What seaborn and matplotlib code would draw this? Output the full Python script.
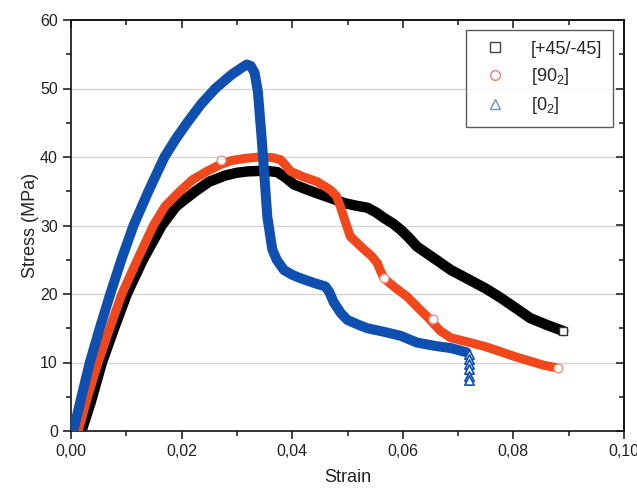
import pandas as pd
import matplotlib
matplotlib.use("Agg")
import matplotlib.pyplot as plt
import seaborn as sns
from matplotlib.lines import Line2D
from matplotlib.ticker import MultipleLocator, FuncFormatter, NullFormatter

# ---- data ----
labels = ["[+45/-45]", "[90$_2$]", "[0$_2$]"]

black_x = [0.0019, 0.0035, 0.0056, 0.0078, 0.0101, 0.0130, 0.0164, 0.0190, 0.0225, 0.0250,
           0.0279, 0.0300, 0.0320, 0.0350, 0.0373, 0.0388, 0.0403, 0.0425, 0.0445, 0.0470,
           0.0493, 0.0515, 0.0536, 0.0552, 0.0566, 0.0582, 0.0596, 0.0610, 0.0626, 0.0655,
           0.0687, 0.0722, 0.0750, 0.0776, 0.0805, 0.0830, 0.0860, 0.0890]
black_y = [0, 4, 10, 15, 20, 25, 30, 32.8, 35, 36.4,
           37.3, 37.7, 37.9, 38.0, 37.8, 37.0, 36.0, 35.3, 34.7, 34.0,
           33.3, 32.9, 32.6, 31.9, 31.1, 30.3, 29.4, 28.3, 26.9, 25.3,
           23.5, 22.0, 20.8, 19.5, 17.9, 16.5, 15.5, 14.6]

red_x = [0.0013, 0.0030, 0.0049, 0.0070, 0.0092, 0.0120, 0.0149, 0.0170, 0.0197, 0.0220,
         0.0248, 0.0270, 0.0291, 0.0315, 0.0340, 0.0365, 0.0379, 0.0388, 0.0397, 0.0420,
         0.0445, 0.0469, 0.0480, 0.0487, 0.0495, 0.0505, 0.0518, 0.0530, 0.0544, 0.0554,
         0.0560, 0.0566, 0.0585, 0.0608, 0.0625, 0.0644, 0.0668, 0.0687, 0.0722, 0.0750,
         0.0776, 0.0805, 0.0830, 0.0855, 0.0880]
red_y = [0, 5, 10, 15, 20, 25, 30, 32.8, 35, 36.7,
         38.0, 38.9, 39.5, 39.8, 40.0, 39.9, 39.6, 38.8, 37.9, 37.1,
         36.4, 35.2, 34.3, 32.8, 30.8, 28.4, 27.4, 26.5, 25.5, 24.5,
         23.3, 22.3, 21.0, 19.6, 18.2, 16.7, 14.6, 13.6, 12.9, 12.3,
         11.6, 10.8, 10.2, 9.6, 9.2]

blue_x = [0.0004, 0.0019, 0.0034, 0.0052, 0.0071, 0.0091, 0.0113, 0.0140, 0.0169, 0.0190,
          0.0210, 0.0235, 0.0261, 0.0290, 0.0310, 0.0318, 0.0325, 0.0332, 0.0338, 0.0345,
          0.0355, 0.0364, 0.0372, 0.0385, 0.0400, 0.0415, 0.0440, 0.0460, 0.0467, 0.0475,
          0.0488, 0.0500, 0.0520, 0.0536, 0.0565, 0.0596, 0.0626, 0.0660, 0.0687, 0.0715]
blue_y = [0, 5, 10, 15, 20, 25, 30, 35, 40, 42.7,
          45, 47.7, 50, 52.0, 53.1, 53.5, 53.3, 52.3, 49.5, 42.5,
          31.3, 26.5, 25.0, 23.5, 22.8, 22.3, 21.6, 21.1, 20.3, 18.8,
          17.2, 16.2, 15.5, 15.0, 14.5, 13.9, 12.9, 12.4, 12.1, 11.5]

# open markers sitting on the curves
black_mk_x = [0.0890]
black_mk_y = [14.6]
red_mk_x = [0.0272, 0.0566, 0.0655, 0.0880]
red_mk_y = [39.6, 22.3, 16.3, 9.2]
blue_mk_x = [0.0719, 0.0719, 0.0719, 0.0719, 0.0719, 0.0719]
blue_mk_y = [11.3, 10.5, 9.8, 9.0, 8.0, 7.5]

c_black = "#000000"
c_red = "#f0481c"
c_blue = "#0f4fb0"

sns.set_style("ticks")
plt.rcParams["font.family"] = ["Liberation Sans", "DejaVu Sans"]
plt.rcParams["mathtext.fontset"] = "custom"
plt.rcParams["mathtext.rm"] = "Liberation Sans"

fig = plt.figure(figsize=(6.37, 4.88), dpi=100)
ax = fig.add_axes([71 / 637, 57 / 488, 553 / 637, 411 / 488])

# gridlines (horizontal only)
for g in [10, 20, 30, 40, 50]:
    ax.axhline(g, color="#d4d4d4", lw=1.0, zorder=0)

df_k = pd.DataFrame({"x": black_x, "y": black_y})
df_r = pd.DataFrame({"x": red_x, "y": red_y})
df_b = pd.DataFrame({"x": blue_x, "y": blue_y})

sns.lineplot(data=df_k, x="x", y="y", sort=False, estimator=None, color=c_black,
             lw=7.5, solid_joinstyle="round", solid_capstyle="round", ax=ax, zorder=2)
sns.lineplot(data=df_r, x="x", y="y", sort=False, estimator=None, color=c_red,
             lw=6.5, solid_joinstyle="round", solid_capstyle="round", ax=ax, zorder=3)
sns.lineplot(data=df_b, x="x", y="y", sort=False, estimator=None, color=c_blue,
             lw=7.2, solid_joinstyle="round", solid_capstyle="round", ax=ax, zorder=4)

sns.scatterplot(x=black_mk_x, y=black_mk_y, marker="s", s=40, facecolor="white",
                edgecolor="#333333", linewidth=1.0, ax=ax, zorder=5)
sns.scatterplot(x=red_mk_x, y=red_mk_y, marker="o", s=40, facecolor="white",
                edgecolor="#f59080", linewidth=1.0, ax=ax, zorder=5)
sns.scatterplot(x=blue_mk_x, y=blue_mk_y, marker="^", s=45, facecolor="white",
                edgecolor=c_blue, linewidth=1.2, ax=ax, zorder=5)

ax.set_xlim(0, 0.10)
ax.set_ylim(0, 60)
ax.xaxis.set_major_locator(MultipleLocator(0.02))
ax.xaxis.set_minor_locator(MultipleLocator(0.01))
ax.yaxis.set_major_locator(MultipleLocator(10))
ax.yaxis.set_minor_locator(MultipleLocator(5))
ax.xaxis.set_major_formatter(FuncFormatter(lambda v, p: f"{v:.2f}".replace(".", ",")))
ax.yaxis.set_major_formatter(FuncFormatter(lambda v, p: f"{v:.0f}"))

ax.tick_params(which="major", direction="out", length=6, width=1.2, labelsize=11.5,
               colors="#222222")
ax.tick_params(which="minor", direction="out", length=3.5, width=1.2)
for s in ax.spines.values():
    s.set_linewidth(1.2)
    s.set_color("#111111")

# inward ticks on the top and right frame
top = ax.secondary_xaxis("top")
top.xaxis.set_major_locator(MultipleLocator(0.02))
top.xaxis.set_minor_locator(MultipleLocator(0.01))
top.xaxis.set_major_formatter(NullFormatter())
top.tick_params(which="major", direction="in", length=6, width=1.2)
top.tick_params(which="minor", direction="in", length=3.5, width=1.2)
top.spines["top"].set_linewidth(1.2)
right = ax.secondary_yaxis("right")
right.yaxis.set_major_locator(MultipleLocator(10))
right.yaxis.set_minor_locator(MultipleLocator(5))
right.yaxis.set_major_formatter(NullFormatter())
right.tick_params(which="major", direction="in", length=6, width=1.2)
right.tick_params(which="minor", direction="in", length=3.5, width=1.2)
right.spines["right"].set_linewidth(1.2)

ax.set_xlabel("Strain", fontsize=13, color="#222222", labelpad=7)
ax.set_ylabel("Stress (MPa)", fontsize=13, color="#222222", labelpad=1)

handles = [
    Line2D([], [], ls="none", marker="s", ms=6.5, mfc="white", mec="#444444", mew=1.0),
    Line2D([], [], ls="none", marker="o", ms=7, mfc="white", mec="#f08070", mew=1.0),
    Line2D([], [], ls="none", marker="^", ms=7, mfc="white", mec="#6f8fd0", mew=1.0),
]
leg = ax.legend(handles, labels, loc="upper right", bbox_to_anchor=(0.98, 0.976),
                borderaxespad=0, fontsize=13, frameon=True, fancybox=False,
                edgecolor="#333333", handletextpad=1.0, labelspacing=0.45,
                borderpad=0.6, handlelength=2.0)
leg.get_frame().set_linewidth(1.0)

fig.savefig("out.png", dpi=100)
